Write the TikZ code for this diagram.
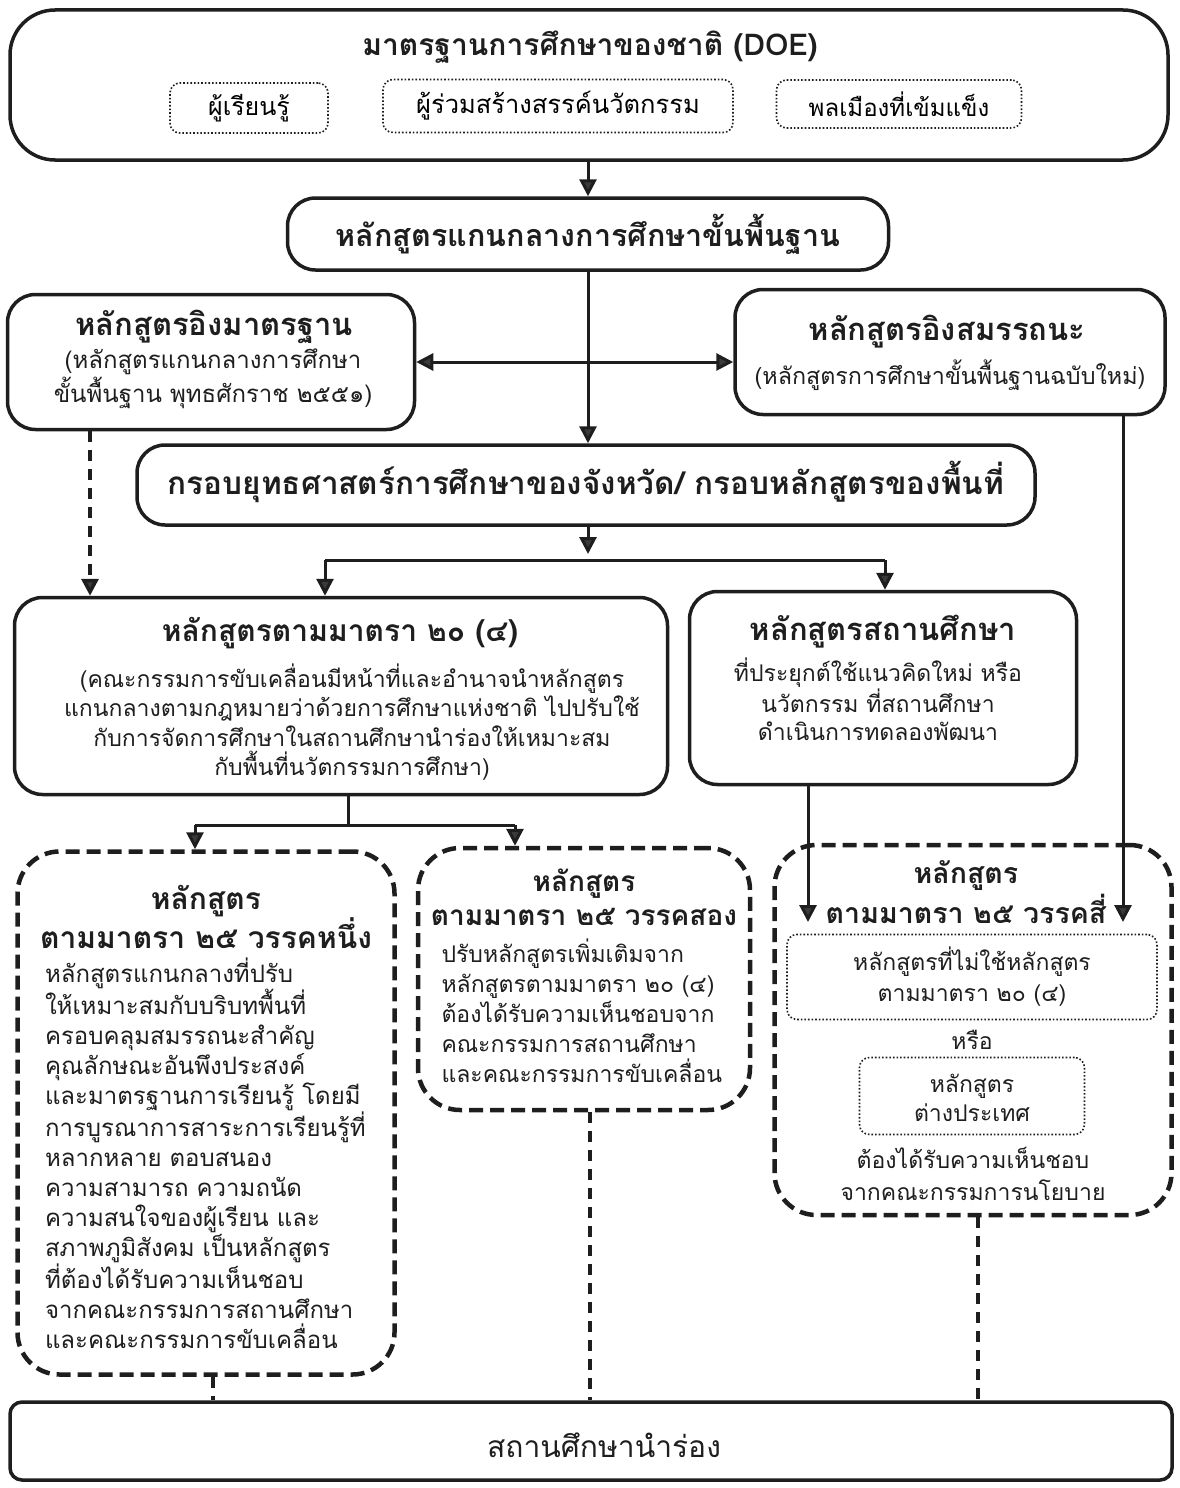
\documentclass[tikz,border=0pt]{standalone}
\usepackage{fontspec}
\setmainfont[Script=Thai]{Loma}
\usetikzlibrary{arrows.meta}
\definecolor{ink}{HTML}{1E1E1E}
\definecolor{tipc}{HTML}{3A3A3A}
\tikzset{
  solidbox/.style={draw=ink, line width=3.5pt, rounded corners=28pt, inner sep=0pt},
  dashbox/.style={draw=ink, line width=4.5pt, dash pattern=on 14pt off 7pt, rounded corners=42pt, inner sep=0pt},
  dotbox/.style={draw=ink, line width=1.6pt, dotted, rounded corners=10pt, inner sep=0pt},
  conn/.style={draw=ink, line width=3pt, -{Triangle[length=17pt,width=17pt,fill=tipc]}},
  plain/.style={draw=ink, line width=3pt},
  dconn/.style={draw=ink, line width=3.5pt, dash pattern=on 11pt off 8pt},
  ttl/.style={font=\bfseries\fontsize{31}{35}\selectfont, inner sep=0pt, text=ink},
  body/.style={font=\fontsize{23}{29.5}\selectfont, inner sep=0pt, align=center, text=ink},
}
\begin{document}
\begin{tikzpicture}[x=1pt,y=-1pt]
\useasboundingbox (0,0) rectangle (1179,1488);
% boxes
\node[solidbox, rounded corners=45pt, minimum width=1158, minimum height=150] (doe) at (589,85) {};
\node[dotbox, minimum width=158, minimum height=50, font=\fontsize{25}{28}\selectfont] (s1) at (249,108) {ผู้เรียนรู้};
\node[dotbox, minimum width=350, minimum height=53, font=\fontsize{25.5}{28}\selectfont] (s2) at (558,106) {ผู้ร่วมสร้างสรรค์นวัตกรรม};
\node[dotbox, minimum width=245, minimum height=48, font=\fontsize{24}{28}\selectfont] (s3) at (899,104) {พลเมืองที่เข้มแข็ง};
\node[solidbox, minimum width=601, minimum height=72] (core) at (588,234) {};
\node[solidbox, minimum width=407, minimum height=135] (std) at (211,362) {};
\node[solidbox, minimum width=430, minimum height=125] (comp) at (950,352) {};
\node[solidbox, minimum width=898, minimum height=80] (frame) at (586,485) {};
\node[solidbox, minimum width=653, minimum height=197] (s20) at (341,696) {};
\node[solidbox, minimum width=387, minimum height=193] (school) at (883,688) {};
\node[dashbox, minimum width=377, minimum height=523] (p1) at (206,1113) {};
\node[dashbox, minimum width=332, minimum height=262] (p2) at (584,979) {};
\node[dashbox, minimum width=397, minimum height=370] (p4) at (973,1030) {};
\node[dotbox, minimum width=370, minimum height=85] (d1) at (972,977) {};
\node[dotbox, minimum width=225, minimum height=77] (d2) at (972,1096) {};
\node[solidbox, rounded corners=12pt, minimum width=1162, minimum height=78] (pilot) at (591,1441) {};
% texts
\node[ttl, font=\bfseries\fontsize{30}{34}\selectfont] (tdoe) at (590,47) {มาตรฐานการศึกษาของชาติ (DOE)};
\node[ttl, font=\bfseries\fontsize{30.5}{34}\selectfont] (tcore) at (588,234) {หลักสูตรแกนกลางการศึกษาขั้นพื้นฐาน};
\node[ttl] (tstd) at (214,327) {หลักสูตรอิงมาตรฐาน};
\node[body, font=\fontsize{24}{34}\selectfont] (bstd) at (213,379) {(หลักสูตรแกนกลางการศึกษา\\ขั้นพื้นฐาน พุทธศักราช ๒๕๕๑)};
\node[ttl] (tcomp) at (947,332) {หลักสูตรอิงสมรรถนะ};
\node[body, font=\fontsize{23.3}{29.5}\selectfont] (bcomp) at (950,375) {(หลักสูตรการศึกษาขั้นพื้นฐานฉบับใหม่)};
\node[ttl, font=\bfseries\fontsize{31.5}{35}\selectfont] (tframe) at (586,482) {กรอบยุทธศาสตร์การศึกษาของจังหวัด/ กรอบหลักสูตรของพื้นที่};
\node[ttl, font=\bfseries\fontsize{30}{35}\selectfont] (ts20) at (340,633) {หลักสูตรตามมาตรา ๒๐ (๔)};
\node[body] (bs20) at (352,722) {(คณะกรรมการขับเคลื่อนมีหน้าที่และอำนาจนำหลักสูตร\\แกนกลางตามกฎหมายว่าด้วยการศึกษาแห่งชาติ ไปปรับใช้\\กับการจัดการศึกษาในสถานศึกษานำร่องให้เหมาะสม\\กับพื้นที่นวัตกรรมการศึกษา)};
\node[ttl] (tschool) at (883,632) {หลักสูตรสถานศึกษา};
\node[body, font=\fontsize{23}{28}\selectfont] (bschool) at (878,699) {ที่ประยุกต์ใช้แนวคิดใหม่ หรือ\\นวัตกรรม ที่สถานศึกษา\\ดำเนินการทดลองพัฒนา};
\node[ttl, align=center, font=\bfseries\fontsize{30}{39}\selectfont] (tp1) at (206,917) {หลักสูตร\\ตามมาตรา ๒๕ วรรคหนึ่ง};
\node[body, align=left, text width=322, font=\fontsize{24}{30}\selectfont] (bp1) at (206,1153) {%
หลักสูตรแกนกลางที่ปรับ\\
ให้เหมาะสมกับบริบทพื้นที่\\
ครอบคลุมสมรรถนะสำคัญ\\
คุณลักษณะอันพึงประสงค์\\
\makebox[322pt][s]{และมาตรฐานการเรียนรู้ โดยมี}\\
การบูรณาการสาระการเรียนรู้ที่\\
\makebox[322pt][s]{หลากหลาย ตอบสนอง}\\
\makebox[322pt][s]{ความสามารถ ความถนัด}\\
\makebox[322pt][s]{ความสนใจของผู้เรียน และ}\\
\makebox[322pt][s]{สภาพภูมิสังคม เป็นหลักสูตร}\\
ที่ต้องได้รับความเห็นชอบ\\
จากคณะกรรมการสถานศึกษา\\
และคณะกรรมการขับเคลื่อน};
\node[ttl, align=center, font=\bfseries\fontsize{28}{34}\selectfont] (tp2) at (584,897) {หลักสูตร\\ตามมาตรา ๒๕ วรรคสอง};
\node[body, align=left, text width=285, font=\fontsize{23}{30}\selectfont] (bp2) at (584,1011) {%
ปรับหลักสูตรเพิ่มเติมจาก\\
หลักสูตรตามมาตรา ๒๐ (๔)\\
ต้องได้รับความเห็นชอบจาก\\
คณะกรรมการสถานศึกษา\\
และคณะกรรมการขับเคลื่อน};
\node[ttl, align=center, font=\bfseries\fontsize{28.5}{40}\selectfont] (tp4) at (966,892) {หลักสูตร\\ตามมาตรา ๒๕ วรรคสี่};
\node[body, font=\fontsize{23}{31}\selectfont] (bd1) at (972,977) {หลักสูตรที่ไม่ใช้หลักสูตร\\ตามมาตรา ๒๐ (๔)};
\node[body] (tor) at (972,1040) {หรือ};
\node[body] (bd2) at (972,1098) {หลักสูตร\\ต่างประเทศ};
\node[body, font=\fontsize{23}{32}\selectfont] (bp4) at (973,1174) {ต้องได้รับความเห็นชอบ\\จากคณะกรรมการนโยบาย};
\node[inner sep=0pt, text=ink, font=\fontsize{30}{34}\selectfont] (tpilot) at (604,1445) {สถานศึกษานำร่อง};
% connectors
\draw[conn] (doe.south -| core.north) -- (core.north);
\draw[conn] (core.south) -- (core.south |- frame.north);
\coordinate (mid) at (588,362);
\draw[conn] (mid) -- (std.east |- mid);
\draw[conn] (mid) -- (comp.west |- mid);
\coordinate (split) at (588,560);
\coordinate (splitL) at (325,560);
\coordinate (splitR) at (885,560);
\draw[conn, shorten >=6pt] (frame.south -| split) -- (split);
\draw[plain] (splitL) -- (splitR);
\draw[conn] (splitL) -- (splitL |- s20.north);
\draw[conn] (splitR) -- (splitR |- school.north);
\coordinate (dl) at (90,500);
\draw[dconn, -{Triangle[length=17pt,width=17pt,fill=tipc]}] (std.south -| dl) -- (s20.north -| dl);
\coordinate (b1) at (348,825);
\coordinate (b1L) at (195,825);
\coordinate (b1R) at (515,825);
\draw[plain] (s20.south -| b1) -- (b1);
\draw[plain] (b1L) -- (b1R);
\draw[conn] (b1L) -- (b1L |- p1.north);
\draw[conn] (b1R) -- (b1R |- p2.north);
\coordinate (e1) at (808,922);
\coordinate (e2) at (1123,922);
\draw[conn] (school.south -| e1) -- (e1);
\draw[conn] (comp.south -| e2) -- (e2);
\coordinate (k1) at (213,1400);
\coordinate (k2) at (590,1400);
\coordinate (k3) at (978,1400);
\draw[dconn] (p1.south -| k1) -- (pilot.north -| k1);
\draw[dconn] (p2.south -| k2) -- (pilot.north -| k2);
\draw[dconn] (p4.south -| k3) -- (pilot.north -| k3);
\end{tikzpicture}
\end{document}
